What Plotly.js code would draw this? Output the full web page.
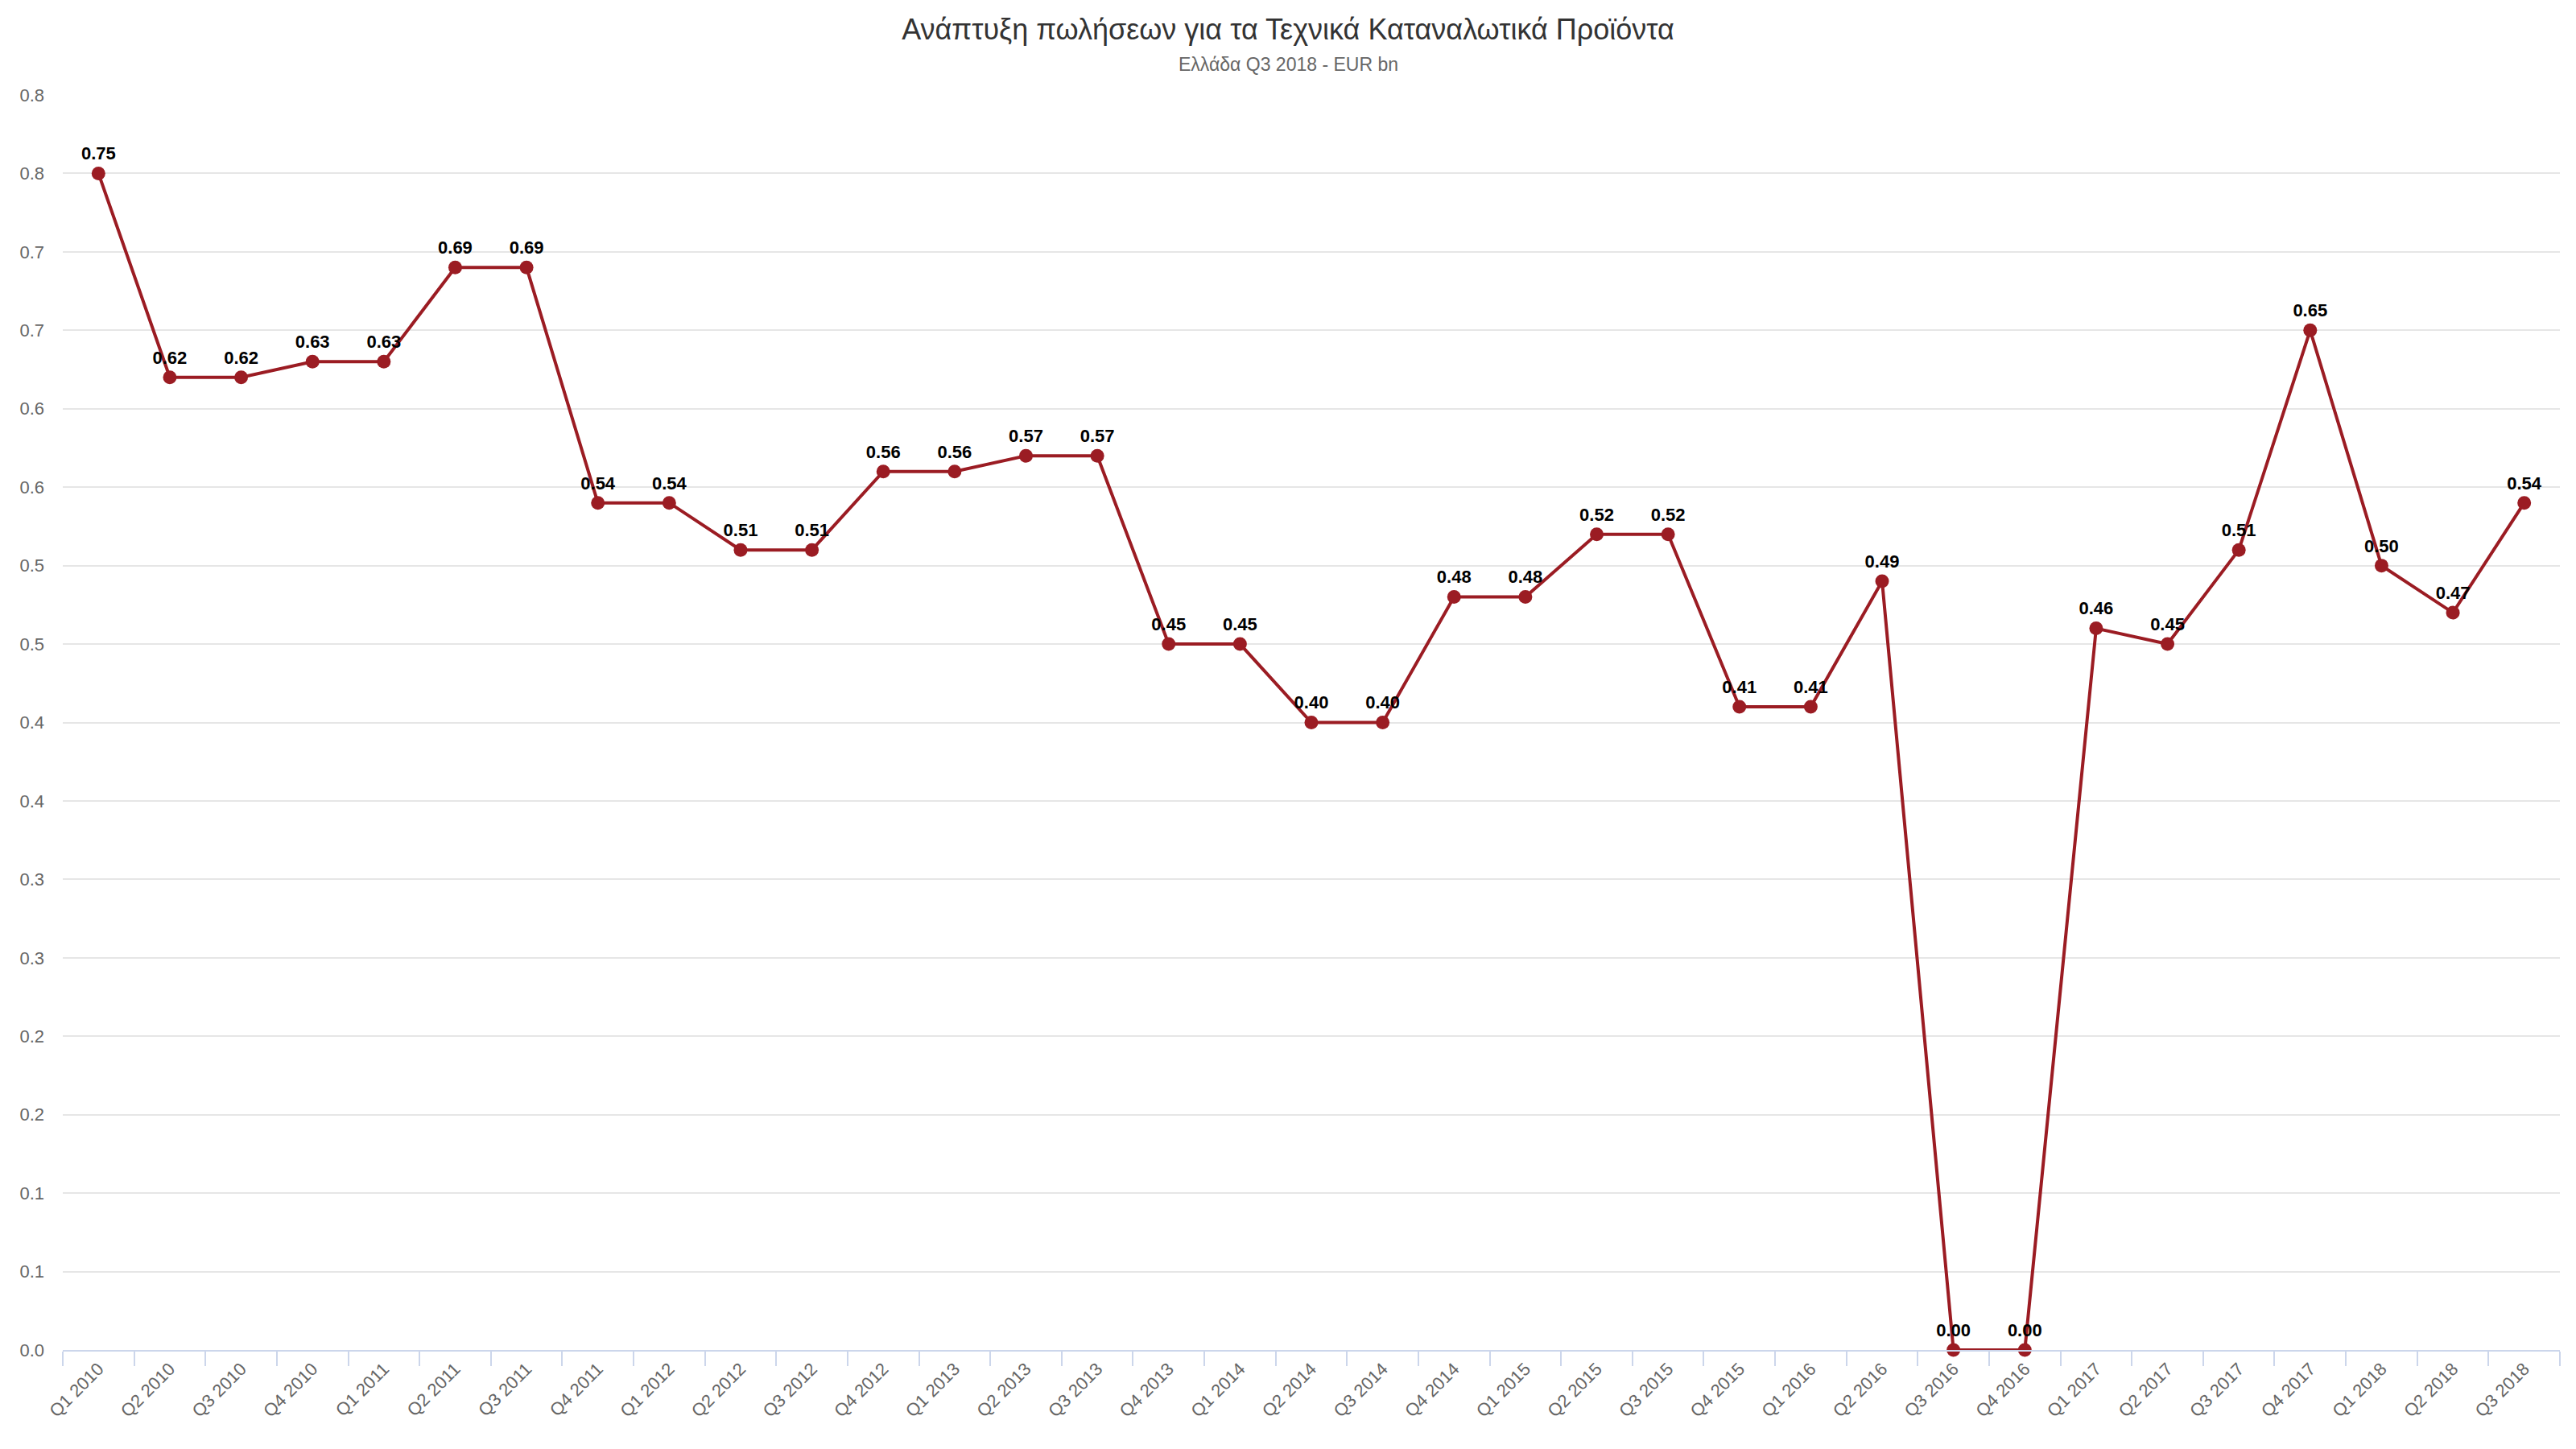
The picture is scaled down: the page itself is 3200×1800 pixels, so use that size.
<!DOCTYPE html>
<html>
<head>
<meta charset="utf-8">
<script src="https://cdn.plot.ly/plotly-3.0.1.min.js"></script>
<style>
  html, body { margin: 0; padding: 0; background: #fff; }
  #chart { width: 3200px; height: 1800px; }
</style>
</head>
<body>
<div id="chart"></div>
<script>
const quarters = [
  "Q1 2010", "Q2 2010", "Q3 2010", "Q4 2010",
  "Q1 2011", "Q2 2011", "Q3 2011", "Q4 2011",
  "Q1 2012", "Q2 2012", "Q3 2012", "Q4 2012",
  "Q1 2013", "Q2 2013", "Q3 2013", "Q4 2013",
  "Q1 2014", "Q2 2014", "Q3 2014", "Q4 2014",
  "Q1 2015", "Q2 2015", "Q3 2015", "Q4 2015",
  "Q1 2016", "Q2 2016", "Q3 2016", "Q4 2016",
  "Q1 2017", "Q2 2017", "Q3 2017", "Q4 2017",
  "Q1 2018", "Q2 2018", "Q3 2018",
];

const sales = [
  0.75, 0.62, 0.62, 0.63,
  0.63, 0.69, 0.69, 0.54,
  0.54, 0.51, 0.51, 0.56,
  0.56, 0.57, 0.57, 0.45,
  0.45, 0.40, 0.40, 0.48,
  0.48, 0.52, 0.52, 0.41,
  0.41, 0.49, 0.00, 0.00,
  0.46, 0.45, 0.51, 0.65,
  0.50, 0.47, 0.54,
];

// y ticks every 0.05, labelled with one decimal like the source
const yTickVals = [0, 0.05, 0.1, 0.15, 0.2, 0.25, 0.3, 0.35, 0.4, 0.45, 0.5, 0.55, 0.6, 0.65, 0.7, 0.75, 0.8];
const yTickText = ["0.0", "0.1", "0.1", "0.2", "0.2", "0.3", "0.3", "0.4", "0.4", "0.5", "0.5", "0.6", "0.6", "0.7", "0.7", "0.8", "0.8"];

const FONT = "Liberation Sans, Arial, Helvetica, sans-serif";
const LINE_COLOR = "#9b1c23";

const trace = {
  type: "scatter",
  mode: "lines+markers+text",
  x: quarters,
  y: sales,
  line: { color: LINE_COLOR, width: 4 },
  marker: { color: LINE_COLOR, size: 17 },
  texttemplate: "<b>%{y:.2f}</b>",
  textposition: "top center",
  textfont: { family: FONT, size: 22, color: "#000000" },
  cliponaxis: false,
  hoverinfo: "x+y",
};

const layout = {
  width: 3200,
  height: 1800,
  paper_bgcolor: "#ffffff",
  plot_bgcolor: "#ffffff",
  font: { family: FONT, color: "#666666" },
  margin: { l: 78, r: 20, t: 118, b: 123 },
  showlegend: false,
  title: {
    text: "Ανάπτυξη πωλήσεων για τα Τεχνικά Καταναλωτικά Προϊόντα",
    font: { family: FONT, size: 36, color: "#333333" },
    x: 0.5,
    xanchor: "center",
    y: 0.98,
    yanchor: "middle",
  },
  annotations: [{
    text: "Ελλάδα Q3 2018 - EUR bn",
    xref: "paper",
    yref: "paper",
    showarrow: false,
    xanchor: "center",
    yanchor: "middle",
    font: { family: FONT, size: 23, color: "#666666" },
  }],
  xaxis: {
    type: "category",
    range: [-0.5, quarters.length - 0.5],
    tickson: "boundaries",
    ticks: "outside",
    ticklen: 18,
    tickwidth: 2,
    tickcolor: "#ccd6eb",
    showline: true,
    linecolor: "#ccd6eb",
    linewidth: 2,
    showgrid: false,
    zeroline: false,
    tickangle: -45,
    tickfont: { family: FONT, size: 22, color: "#666666" },
  },
  yaxis: {
    range: [0, 0.8],
    tickmode: "array",
    tickvals: yTickVals,
    ticktext: yTickText,
    showgrid: true,
    gridcolor: "#e6e6e6",
    gridwidth: 2,
    zeroline: false,
    showline: false,
    ticks: "",
    ticklabelstandoff: 22,
    tickfont: { family: FONT, size: 22, color: "#666666" },
  },
};

// subtitle centred on the page, converted to plot-area fractions
const plotW = layout.width - layout.margin.l - layout.margin.r;
const plotH = layout.height - layout.margin.t - layout.margin.b;
layout.annotations[0].x = (layout.width / 2 - layout.margin.l) / plotW;
layout.annotations[0].y = (layout.height - layout.margin.b - 80) / plotH;

Plotly.newPlot("chart", [trace], layout, { displayModeBar: false, responsive: false });
</script>
</body>
</html>
